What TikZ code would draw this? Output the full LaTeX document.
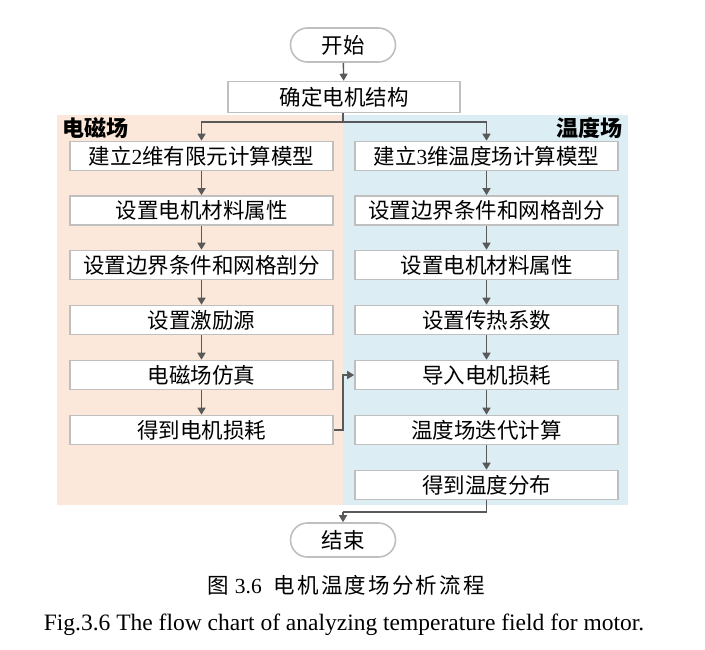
\documentclass[tikz,border=0pt]{standalone}
\usepackage{fontspec}
\setmainfont{Liberation Serif}
\newfontfamily\cjk{Noto Sans CJK SC}
\newfontfamily\cjkcap[LetterSpace=10]{Noto Sans CJK SC}
\usetikzlibrary{arrows.meta}
\definecolor{orangebg}{HTML}{FCE8DA}
\definecolor{bluebg}{HTML}{DCEDF3}
\definecolor{boxgray}{HTML}{BFBFBF}
\definecolor{arrgray}{HTML}{595959}
\begin{document}
\begin{tikzpicture}[x=1pt,y=-1pt,
  stepbox/.style={draw=boxgray, line width=1.6pt, fill=white, minimum width=263pt, minimum height=29pt, inner sep=0pt, font=\cjk\fontsize{21.5}{21.5}\selectfont},
  term/.style={draw=boxgray, line width=1.6pt, fill=white, rounded corners=17pt, minimum width=105pt, minimum height=34pt, inner sep=0pt, font=\cjk\fontsize{21.5}{21.5}\selectfont},
  arr/.style={draw=arrgray, line width=1.4pt, -{Triangle[length=7pt,width=8pt]}},
  ln/.style={draw=arrgray, line width=1.4pt},
  lbl/.style={font=\cjk\bfseries\fontsize{22}{22}\selectfont, inner sep=0pt}]
\useasboundingbox (0,0) rectangle (705,649);
\fill[orangebg] (57,115) rectangle (343,505);
\fill[bluebg] (343,115) rectangle (628,505);
\node[lbl, anchor=west] (emlbl) at (62,128) {电磁场};
\node[lbl, anchor=east] (thlbl) at (623,128) {温度场};

\node[term] (start) at (343,45) {开始};
\node[stepbox, minimum width=232pt, minimum height=31pt] (conf) at (344,97) {确定电机结构};

\node[stepbox] (l1) at (201.5,156) {建立\fontspec{Liberation Serif}2\cjk 维有限元计算模型};
\node[stepbox] (l2) at (201.5,210.5) {设置电机材料属性};
\node[stepbox] (l3) at (201.5,265) {设置边界条件和网格剖分};
\node[stepbox] (l4) at (201.5,320) {设置激励源};
\node[stepbox] (l5) at (201.5,375) {电磁场仿真};
\node[stepbox] (l6) at (201.5,430) {得到电机损耗};

\node[stepbox] (r1) at (486.5,156) {建立\fontspec{Liberation Serif}3\cjk 维温度场计算模型};
\node[stepbox] (r2) at (486.5,210.5) {设置边界条件和网格剖分};
\node[stepbox] (r3) at (486.5,265) {设置电机材料属性};
\node[stepbox] (r4) at (486.5,320) {设置传热系数};
\node[stepbox] (r5) at (486.5,375) {导入电机损耗};
\node[stepbox] (r6) at (486.5,430) {温度场迭代计算};
\node[stepbox] (r7) at (486.5,485) {得到温度分布};

\node[term] (end) at (343,540) {结束};

\coordinate (split) at (343,122);
\coordinate (join) at (343,512);
\coordinate (bridge) at (343,430);

\draw[arr] (start) -- (conf);
\draw[ln] (conf.south -| split) -- (split);
\draw[arr] (split) -| (l1.north);
\draw[arr] (split) -| (r1.north);
\foreach \a/\b in {l1/l2,l2/l3,l3/l4,l4/l5,l5/l6,r1/r2,r2/r3,r3/r4,r4/r5,r5/r6,r6/r7}{
  \draw[arr] (\a) -- (\b);
}
\draw[arr] (l6.east) -- (bridge) |- (r5.west);
\draw[ln] (r7.south) |- (join);
\draw[arr] (join) -- (end.north);

\node[font=\cjkcap\fontsize{21.5}{21.5}\selectfont] (cap1) at (346,585) {图\hspace{6pt}\fontspec{Liberation Serif}3.6\hspace{12pt}\cjkcap 电机温度场分析流程};
\node[font=\fontsize{23.5}{23.5}\selectfont] (cap2) at (344,625) {Fig.3.6 The flow chart of analyzing temperature field for motor.};
\end{tikzpicture}
\end{document}
